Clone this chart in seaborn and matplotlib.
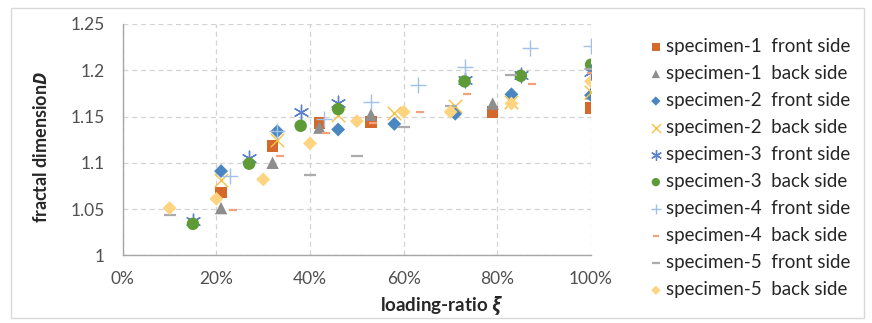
import matplotlib
matplotlib.use("Agg")
import matplotlib.pyplot as plt
import matplotlib.patches as mpatches
from matplotlib.ticker import PercentFormatter, FuncFormatter, MultipleLocator
import seaborn as sns

# loading ratio (%) and fractal dimension D for each series
s1_front_x = [21, 32, 42, 53, 79, 100]
s1_front_y = [1.068, 1.118, 1.143, 1.144, 1.155, 1.159]
s1_back_x = [21, 32, 42, 53, 79, 100]
s1_back_y = [1.051, 1.100, 1.138, 1.152, 1.164, 1.175]
s2_front_x = [21, 33, 46, 58, 71, 83, 100]
s2_front_y = [1.091, 1.134, 1.136, 1.142, 1.153, 1.174, 1.173]
s2_back_x = [21, 33, 46, 58, 71, 83, 100]
s2_back_y = [1.081, 1.125, 1.152, 1.154, 1.161, 1.166, 1.176]
s3_front_x = [15, 27, 38, 46, 73, 85, 100]
s3_front_y = [1.037, 1.105, 1.155, 1.165, 1.190, 1.195, 1.198]
s3_back_x = [15, 27, 38, 46, 73, 85, 100]
s3_back_y = [1.034, 1.099, 1.140, 1.158, 1.188, 1.194, 1.206]
s4_front_x = [23, 33, 43, 53, 63, 73, 87, 100]
s4_front_y = [1.086, 1.134, 1.147, 1.166, 1.184, 1.204, 1.224, 1.226]
s4_back_x = [23.5, 33.5, 43.5, 53.5, 63.5, 73.5, 87.5, 100]
s4_back_y = [1.049, 1.107, 1.132, 1.143, 1.155, 1.174, 1.185, 1.197]
s5_front_x = [10, 30, 40, 50, 60, 70, 83, 100]
s5_front_y = [1.044, 1.083, 1.087, 1.107, 1.139, 1.161, 1.195, 1.201]
s5_back_x = [10, 20, 30, 40, 50, 60, 70, 83, 100]
s5_back_y = [1.051, 1.061, 1.082, 1.121, 1.145, 1.155, 1.155, 1.164, 1.188]

labels = [
    "specimen-1  front side", "specimen-1  back side",
    "specimen-2  front side", "specimen-2  back side",
    "specimen-3  front side", "specimen-3  back side",
    "specimen-4  front side", "specimen-4  back side",
    "specimen-5  front side", "specimen-5  back side",
]

sns.set_style("white")
plt.rcParams["font.family"] = ["Lato", "DejaVu Sans"]
plt.rcParams["mathtext.fontset"] = "custom"
plt.rcParams["mathtext.it"] = "Open Sans:italic:bold"
plt.rcParams["mathtext.rm"] = "Open Sans:bold"

fig = plt.figure(figsize=(8.72, 3.23), dpi=100)
ax = fig.add_axes([0.1407, 0.2096, 0.5371, 0.7161])

# (x, y, marker, color, size, linewidth)
series = [
    (s1_front_x, s1_front_y, "s", "#D5692B", 70, 0),
    (s1_back_x, s1_back_y, "^", "#8E8E8E", 80, 0),
    (s2_front_x, s2_front_y, "D", "#4A86C2", 50, 0),
    (s2_back_x, s2_back_y, "x", "#F5C242", 95, 1.0),
    (s3_front_x, s3_front_y, (6, 2, 0), "#5C82CE", 110, 1.0),
    (s3_back_x, s3_back_y, "o", "#5E9B37", 80, 0),
    (s4_front_x, s4_front_y, "+", "#A2C0E8", 130, 1.0),
    (s4_back_x, s4_back_y, "_", "#F4A07C", 30, 1.6),
    (s5_front_x, s5_front_y, "_", "#ABABAB", 70, 1.6),
    (s5_back_x, s5_back_y, "D", "#FFD480", 50, 0),
]

for (xs, ys, mk, col, sz, lw), lab in zip(series, labels):
    sns.scatterplot(x=xs, y=ys, marker=mk, color=col, s=sz,
                    linewidth=lw, edgecolor=col if lw else "none",
                    ax=ax, label=lab, zorder=3)

ax.set_xlim(0, 100)
ax.set_ylim(1.0, 1.25)
ax.xaxis.set_major_locator(MultipleLocator(20))
ax.yaxis.set_major_locator(MultipleLocator(0.05))
ax.xaxis.set_major_formatter(PercentFormatter(xmax=100, decimals=0))
ax.yaxis.set_major_formatter(FuncFormatter(lambda v, p: f"{v:g}"))

ax.grid(True, color="#D3D3D3", linestyle=(0, (4, 3)), linewidth=0.9)
for side in ["top", "right"]:
    ax.spines[side].set_visible(False)
for side in ["left", "bottom"]:
    ax.spines[side].set_color("#A6A6A6")
    ax.spines[side].set_linewidth(1.0)
ax.tick_params(axis="both", direction="out", length=5, width=1,
               color="#A6A6A6", labelsize=12.5, labelcolor="#505050")
ax.tick_params(axis="y", pad=8)
ax.tick_params(axis="x", pad=6)

ax.set_xlabel(r"loading-ratio $\xi$", fontsize=13.5, fontweight="bold",
              color="#262626")
ax.xaxis.set_label_coords(0.68, -0.17)
ax.set_ylabel(r"fractal dimension$D$", fontsize=13, fontweight="bold",
              color="#262626")
ax.yaxis.set_label_coords(-0.155, 0.47)

handles, labs = ax.get_legend_handles_labels()
ax.legend_.remove()
leg = fig.legend(handles, labs, loc="upper left",
                 bbox_to_anchor=(0.722, 0.935),
                 frameon=False, fontsize=13.5, handletextpad=0.05,
                 labelspacing=0.535, handlelength=1.0, labelcolor="#262626")
for h, (_, _, _, _, sz, _) in zip(leg.legend_handles, series):
    h.set_sizes([sz * 0.45])

# outer chart frame
fig.patches.append(mpatches.Rectangle((10.5 / 872, 1 - 318 / 323),
                                      853 / 872, 310 / 323,
                                      transform=fig.transFigure,
                                      fill=False, edgecolor="#D9D9D9",
                                      linewidth=1.0))

plt.savefig("out.png", dpi=100)
